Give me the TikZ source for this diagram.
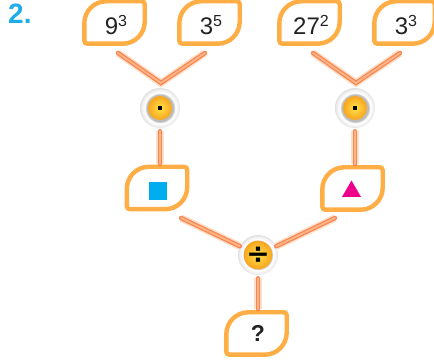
\documentclass[tikz,border=0pt]{standalone}
\usepackage{fontspec}
\setmainfont{Liberation Sans}
\newfontfamily\opfont{DejaVu Sans}
\usetikzlibrary{shapes.geometric}
\definecolor{leafcol}{HTML}{FFAD45}
\definecolor{linkcol}{HTML}{F8874F}
\definecolor{linkcore}{HTML}{FFB48C}
\definecolor{linkglow}{HTML}{FFDFC8}
\definecolor{headcol}{HTML}{1FADE8}
\definecolor{sqcol}{HTML}{00AEEF}
\definecolor{tricol}{HTML}{EC008C}
\definecolor{txtcol}{HTML}{222222}
\definecolor{ballin}{HTML}{FFE24A}
\definecolor{ballout}{HTML}{F8A51E}
\pgfdeclareradialshading{opring}{\pgfpointorigin}{color(0bp)=(black!28);color(17bp)=(black!26);color(19bp)=(white);color(22bp)=(black!4);color(25bp)=(black!12);color(50bp)=(black!12)}
\def\pw#1#2{\hspace{3pt}#1\raisebox{8.5pt}{\fontsize{16}{16}\selectfont #2}}
\tikzset{
	leafbox/.style={minimum width=60pt, minimum height=42pt, inner sep=0pt, text=txtcol, font=\fontsize{24}{24}\selectfont, text height=25pt, text depth=0pt,
		append after command={\pgfextra{\let\LN\tikzlastnode
			\draw[line width=4.4pt, draw=leafcol] (\LN.north) [rounded corners=3pt] -- (\LN.north east) [rounded corners=22pt] -- (\LN.south east) [rounded corners=3pt] -- (\LN.south west) [rounded corners=22pt] -- (\LN.north west) [sharp corners] -- cycle;}}},
	link/.style={line cap=round, line width=4.4pt, draw=linkcol, preaction={draw=linkglow, line width=7.5pt}, postaction={draw=linkcore, line width=1.8pt}},
	opring/.style={circle, minimum size=40pt, inner sep=0pt, shading=opring},
	opball/.style={circle, minimum size=24pt, inner sep=0pt, inner color=ballin, outer color=ballout},
}

\begin{document}
\begin{tikzpicture}[x=1pt, y=-1pt]
	%%%%% START %%%%%
	\clip (0, 0) rectangle (434, 363);
	\node[text=headcol, font=\bfseries\fontsize{28}{28}\selectfont, anchor=base west, inner sep=0pt] (head) at (8, 24) {2.};

	% top row
	\node[leafbox] (boxa) at (114.5, 22.5) {\pw{9}{3}};
	\node[leafbox] (boxb) at (209.5, 22.5) {\pw{3}{5}};
	\node[leafbox] (boxc) at (309.5, 22.5) {\pw{27}{2}};
	\node[leafbox] (boxd) at (404.5, 22.5) {\pw{3}{3}};

	% left and right product
	\node[opring] (opa) at (160, 108) {};
	\node[opball] (balla) at (opa) {\raisebox{-2.5pt}{\rule{3.5pt}{3.5pt}}};
	\node[opring] (opb) at (355, 108) {};
	\node[opball] (ballb) at (opb) {\raisebox{-2.5pt}{\rule{3.5pt}{3.5pt}}};

	\coordinate (ea) at (118, 53);
	\coordinate (va) at (161, 83);
	\coordinate (eb) at (205, 53);
	\coordinate (ec) at (313, 53);
	\coordinate (vb) at (356, 83);
	\coordinate (ed) at (400, 53);
	\draw[link] (ea) -- (va) -- (eb);
	\draw[link] (ec) -- (vb) -- (ed);

	% middle row
	\node[leafbox] (boxs) at (157, 188) {};
	\node[fill=sqcol, minimum size=18pt, inner sep=0pt] (square) at (158, 191) {};
	\node[leafbox] (boxt) at (352.5, 188.5) {};
	\node[regular polygon, regular polygon sides=3, fill=tricol, minimum size=22pt, inner sep=0pt] (triangle) at (351.5, 191.5) {};

	\draw[link, shorten <=3pt, shorten >=3pt] (opa.south) -- (opa.south |- boxs.north);
	\draw[link, shorten <=3pt, shorten >=3pt] (opb.south) -- (opb.south |- boxt.north);

	% quotient
	\node[opring] (opc) at (258, 255) {};
	\node[opball, font=\opfont\bfseries\fontsize{28}{28}\selectfont] (ballc) at (opc) {÷};
	\coordinate (ee) at (181, 218);
	\coordinate (ef) at (335, 218);
	\draw[link] (ee) -- (opc);
	\draw[link] (ef) -- (opc);

	\node[leafbox, font=\bfseries\fontsize{23}{23}\selectfont, text height=16pt] (boxq) at (256.5, 333.5) {\hspace{3pt}?};
	\draw[link, shorten <=3pt, shorten >=3pt] (opc.south) -- (opc.south |- boxq.north);
	%%%%% END %%%%%
\end{tikzpicture}
\end{document}
